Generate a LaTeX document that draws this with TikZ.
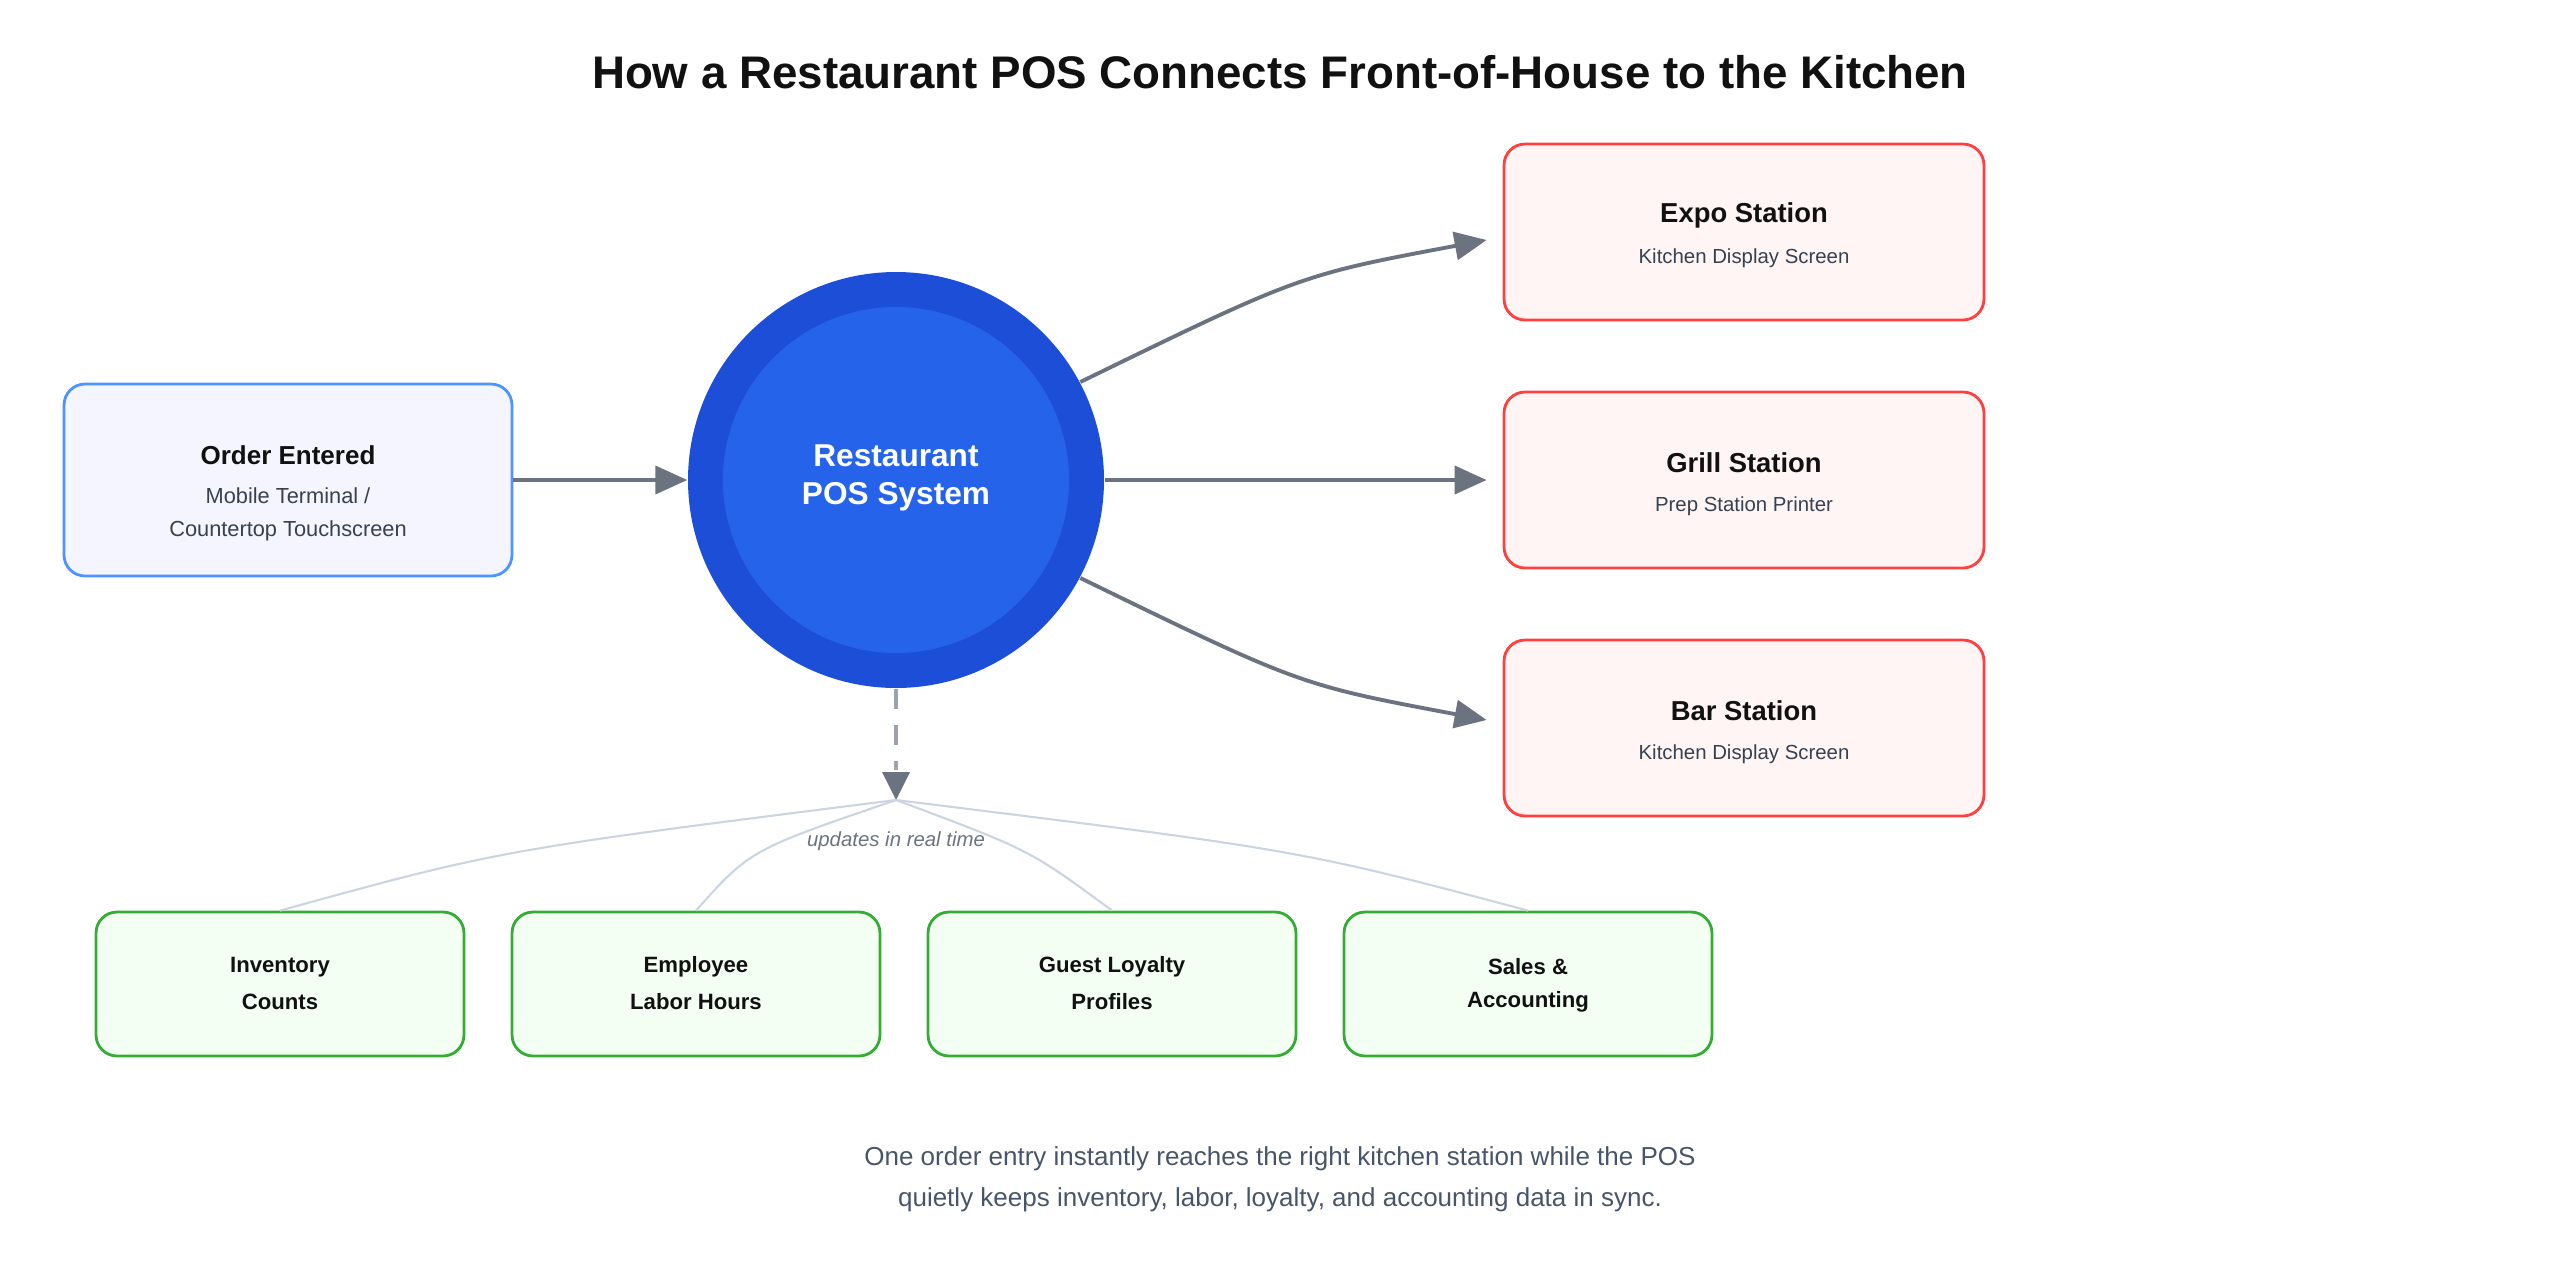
\documentclass[tikz,border=0pt]{standalone}
\usepackage{fontspec}
\setmainfont{Liberation Sans}
\usetikzlibrary{arrows.meta}
\definecolor{edgegray}{HTML}{6B7280}
\definecolor{dashgray}{HTML}{9CA3AF}
\definecolor{linkgray}{HTML}{CBD5E1}
\definecolor{inkdark}{HTML}{111111}
\definecolor{inksub}{HTML}{374151}
\definecolor{capgray}{HTML}{475569}
\definecolor{posouter}{HTML}{1D4ED8}
\definecolor{posinner}{HTML}{2563EB}
\newcommand{\fs}[1]{\fontsize{#1}{#1}\selectfont}
\tikzset{
  box/.style={draw,rounded corners=6pt,line width=0.8pt,minimum height=#1,align=center},
  entry/.style={box=19.2mm,minimum width=44.8mm,fill=blue!4,draw=blue!60!cyan!70},
  station/.style={box=17.6mm,minimum width=48mm,fill=red!4,draw=red!75},
  sync/.style={box=14.4mm,minimum width=36.8mm,fill=green!5,draw=green!60!black!80},
  flow/.style={edgegray,line width=1.1pt,-{Triangle[length=3.2mm,width=2.8mm]}},
  feed/.style={linkgray,line width=0.6pt}
}
\begin{document}
\begin{tikzpicture}[x=0.1mm,y=-0.1mm]
        \useasboundingbox (0,0) rectangle (2560,1280);

        \node[inkdark,font=\fs{13pt}\bfseries] (title) at (1280,72) {How a Restaurant POS Connects Front-of-House to the Kitchen};

        \node[entry] (order) at (288,480) {};
        \node[inkdark,font=\fs{7.4pt}\bfseries] at (288,455) {Order Entered};
        \node[inksub,font=\fs{6.2pt}] at (288,496) {Mobile Terminal /};
        \node[inksub,font=\fs{6.2pt}] at (288,531) {Countertop Touchscreen};

        \node[circle,fill=posouter,minimum size=41.6mm,inner sep=0pt] (pos) at (896,480) {};
        \node[circle,fill=posinner,minimum size=34.6mm,inner sep=0pt] at (896,480) {};
        \node[white,font=\fs{9pt}\bfseries] at (896,456) {Restaurant};
        \node[white,font=\fs{9pt}\bfseries] at (896,497) {POS System};

        \node[station] (expo) at (1744,232) {};
        \node[station] (grill) at (1744,480) {};
        \node[station] (bar) at (1744,728) {};
        \foreach \n/\t/\s in {expo/Expo Station/Kitchen Display Screen,grill/Grill Station/Prep Station Printer,bar/Bar Station/Kitchen Display Screen}{
            \node[inkdark,font=\fs{7.8pt}\bfseries] at ([yshift=1.7mm]\n.center) {\t};
            \node[inksub,font=\fs{5.8pt}] at ([yshift=-2.6mm]\n.center) {\s};
        }

        \draw[flow] (order) -- (pos);
        \draw[flow] (pos) -- ([xshift=-1.6mm]grill.west);
        \draw[flow] (pos.28) .. controls (1300,275) .. ([xshift=-1.6mm,yshift=-0.8mm]expo.west);
        \draw[flow] (pos.-28) .. controls (1300,685) .. ([xshift=-1.6mm,yshift=0.8mm]bar.west);

        \coordinate (hub) at (896,800);
        \draw[dashgray,line width=0.9pt,dash pattern=on 2mm off 1.6mm] (pos.south) -- ([yshift=3mm]hub);
        \fill[edgegray] (hub) -- (882,772) -- (910,772) -- cycle;
        \node[edgegray,font=\fs{5.8pt}\itshape] (rt) at (896,841) {updates in real time};

        \node[sync] (inv) at (280,984) {};
        \node[sync] (emp) at (696,984) {};
        \node[sync] (loy) at (1112,984) {};
        \node[sync] (acc) at (1528,984) {};
        \foreach \n/\a/\b in {inv/Inventory/Counts,emp/Employee/Labor Hours,loy/Guest Loyalty/Profiles,acc/Sales \&/Accounting}{
            \node[inkdark,font=\fs{6.3pt}\bfseries] at ([yshift=1.7mm]\n.center) {\a};
            \node[inkdark,font=\fs{6.3pt}\bfseries] at ([yshift=-1.8mm]\n.center) {\b};
        }

        \draw[feed] (hub) .. controls (500,850) .. (inv.north);
        \draw[feed] (hub) .. controls (750,850) .. (emp.north);
        \draw[feed] (hub) .. controls (1030,850) .. (loy.north);
        \draw[feed] (hub) .. controls (1300,850) .. (acc.north);

        \node[capgray,font=\fs{7.4pt}] (cap1) at (1280,1159) {One order entry instantly reaches the right kitchen station while the POS};
        \node[capgray,font=\fs{7.4pt}] (cap2) at (1280,1200) {quietly keeps inventory, labor, loyalty, and accounting data in sync.};
\end{tikzpicture}
\end{document}
